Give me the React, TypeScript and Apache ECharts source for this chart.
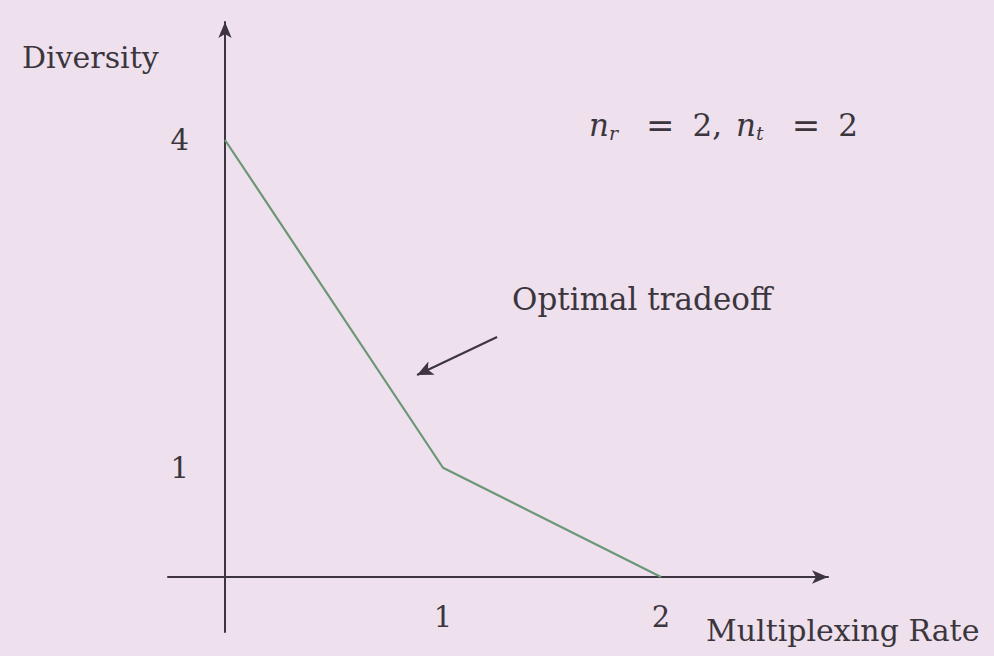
import React, { useEffect, useRef } from "react";
import * as echarts from "echarts";

// Diversity–multiplexing tradeoff curve for a 2x2 MIMO channel
const rates = [0, 1, 2];
const diversity = [4, 1, 0];
const xTickValues = [1, 2];
const yTickValues = [1, 4];
// annotation arrow: from label towards the curve (data coordinates)
const arrowFrom = [1.248, 2.197];
const arrowTo = [0.881, 1.849];

const FONT = "DejaVu Serif";
const INK = "#3b363d";
const AXIS = "#3d3640";
const CURVE = "#6b9776";
const BG = "#efe0ee";

export default function App() {
  const ref = useRef<HTMLDivElement>(null);

  useEffect(() => {
    if (!ref.current) return;
    const chart = echarts.init(ref.current, undefined, { renderer: "svg" });
    const axisLine = {
      show: true,
      onZero: true,
      symbol: ["none", "arrow"],
      symbolSize: [10, 16],
      lineStyle: { color: AXIS, width: 2 },
    };
    chart.setOption({
      animation: false,
      backgroundColor: BG,
      grid: {
        left: 168,
        right: 166,
        top: 22,
        bottom: 24,
        containLabel: false,
        outerBoundsMode: "none",
      },
      xAxis: {
        type: "value",
        min: -0.2615,
        max: 2.766,
        axisLine,
        axisTick: { show: false },
        splitLine: { show: false },
        axisLabel: {
          customValues: xTickValues,
          // labels sit just under the zero line, above the grid's lower edge
          margin: -30,
          fontFamily: FONT,
          fontSize: 29,
          color: INK,
          formatter: (v: number) => String(v),
        },
      },
      yAxis: {
        type: "value",
        min: -0.5034,
        max: 5.08,
        axisLine,
        axisTick: { show: false },
        splitLine: { show: false },
        axisLabel: {
          customValues: yTickValues,
          margin: -21,
          fontFamily: FONT,
          fontSize: 29,
          color: INK,
          formatter: (v: number) => String(v),
        },
      },
      series: [
        {
          type: "line",
          data: rates.map((r, i) => [r, diversity[i]]),
          symbol: "none",
          lineStyle: { color: CURVE, width: 2.2 },
          markLine: {
            silent: true,
            symbol: ["none", "arrow"],
            symbolSize: [11, 16],
            label: { show: false },
            lineStyle: { color: AXIS, width: 2.2, type: "solid" },
            data: [[{ coord: arrowFrom }, { coord: arrowTo }]],
          },
        },
      ],
      graphic: [
        {
          type: "text",
          left: 22,
          top: 42,
          style: { text: "Diversity", fontFamily: FONT, fontSize: 30, fill: INK },
        },
        {
          type: "text",
          left: 706,
          top: 615,
          style: { text: "Multiplexing Rate", fontFamily: FONT, fontSize: 30, fill: INK },
        },
        {
          type: "text",
          left: 512,
          top: 283,
          style: { text: "Optimal tradeoff", fontFamily: FONT, fontSize: 31, fill: INK },
        },
        {
          type: "text",
          left: 589,
          top: 108,
          style: {
            text: "{n|n}{s|r}{e|=}{d|2,}{n|n}{s|t}{e|=}{d|2}",
            fill: INK,
            rich: {
              n: { fontFamily: FONT, fontStyle: "italic", fontSize: 31, fill: INK },
              s: { fontFamily: FONT, fontStyle: "italic", fontSize: 19, fill: INK, padding: [16, 0, 0, 0] },
              e: { fontFamily: FONT, fontSize: 34, fill: INK, padding: [0, 18, 0, 28] },
              d: { fontFamily: FONT, fontSize: 31, fill: INK, padding: [0, 14, 0, 0] },
            },
          },
        },
      ],
    });
    return () => chart.dispose();
  }, []);

  return (
    <div
      ref={ref}
      style={{ position: "fixed", left: 0, top: 0, width: 994, height: 656 }}
    />
  );
}
